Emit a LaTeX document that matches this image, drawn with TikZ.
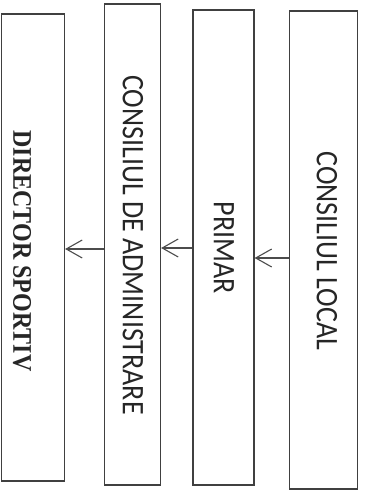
\documentclass[tikz,border=0pt]{standalone}
\usepackage{fontspec}
\setmainfont{Carlito}
\newfontfamily\timesfont{Liberation Serif}
\usetikzlibrary{arrows.meta}

\begin{document}
\begin{tikzpicture}[x = 1pt, y = -1pt,
    box/.style = {draw = black!75, line width = 1.2pt, inner sep = 0pt},
    lbl/.style = {rotate = -90, yscale = 1.12, inner sep = 0pt, text = black!85,
      font = \fontsize{28}{30}\selectfont},
    arr/.style = {draw = black!70, line width = 1.1pt,
      -{Straight Barb[length = 16pt, width = 18pt, line width = 1.1pt]}}]
  \useasboundingbox (0, 0) rectangle (366, 496);

  % boxes, right to left
  \node[box, minimum width = 63pt, minimum height = 467pt] (dir) at (33, 247.5) {};
  \node[box, minimum width = 56pt, minimum height = 481pt] (adm) at (132.5, 244.5) {};
  \node[box, minimum width = 61pt, minimum height = 475pt] (pri) at (223.5, 247.5) {};
  \node[box, minimum width = 68pt, minimum height = 478pt] (loc) at (323.5, 250) {};

  % texts
  \node[lbl, yscale = 1.0, font = \timesfont\bfseries\fontsize{24}{26}\selectfont] (tdir) at (22, 251) {DIRECTOR SPORTIV};
  \node[lbl] (tadm) at (133, 245) {CONSILIUL DE ADMINISTRARE};
  \node[lbl] (tpri) at (224, 248) {PRIMAR};
  \node[lbl] (tloc) at (327, 251) {CONSILIUL LOCAL};

  % arrows
  \foreach \a/\b/\y in {loc/pri/258, pri/adm/248, adm/dir/249}{
    \draw[arr] (\a.west |- 0, \y) -- (\b.east |- 0, \y);
  }
\end{tikzpicture}
\end{document}
